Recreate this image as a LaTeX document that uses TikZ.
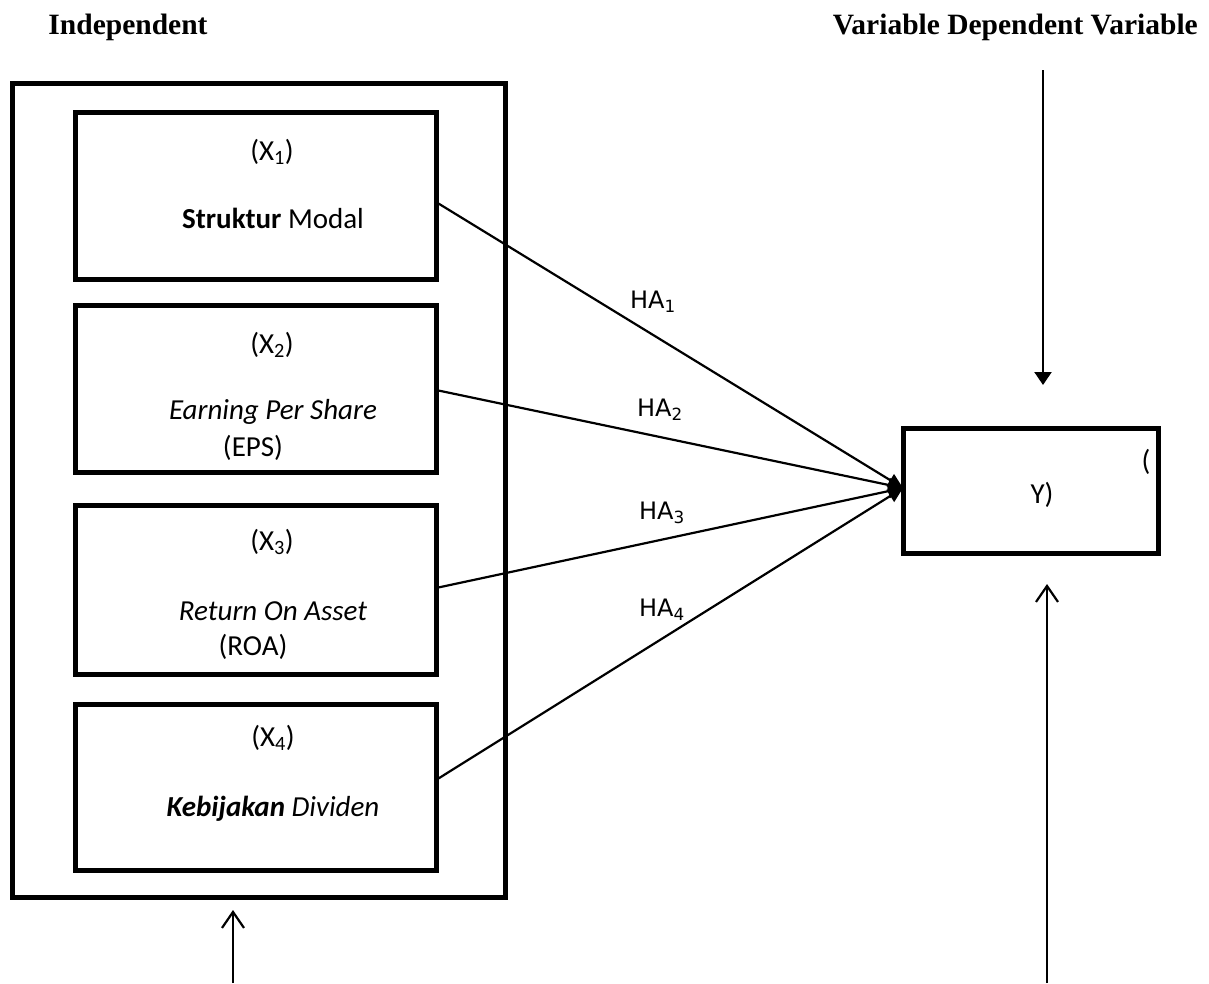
\documentclass[tikz,border=0pt]{standalone}
\usepackage{fontspec}
\setmainfont{Carlito}
\newfontfamily\hdrfont{Liberation Serif}
\newfontfamily\hafont{DejaVu Sans}
\usetikzlibrary{arrows.meta}
\tikzset{
  vbox/.style={draw, line width=5pt, minimum width=361pt, minimum height=167pt, outer sep=0pt, inner sep=0pt},
  txt/.style={inner sep=0pt, font=\fontsize{29}{34}\selectfont},
  hdr/.style={inner sep=0pt, font=\hdrfont\bfseries\fontsize{29.5}{34}\selectfont},
  halbl/.style={inner sep=0pt, font=\hafont\fontsize{24}{28}\selectfont},
  conn/.style={line width=2.2pt, -{Triangle[length=15pt,width=14pt]}},
  downarr/.style={line width=2.2pt, -{Triangle[length=13pt,width=17pt]}},
  openarr/.style={line width=2.2pt, -{Straight Barb[length=16pt,width=22pt,line width=2.2pt]}}
}
\begin{document}
\begin{tikzpicture}[x=1pt,y=-1pt]
\useasboundingbox (0,0) rectangle (1209,983);
% headers
\node[hdr] (h1) at (128,27) {Independent};
\node[hdr, anchor=east] (h2) at (1198,27) {Variable Dependent Variable};
% outer frame
\node[draw, line width=5pt, minimum width=493pt, minimum height=814pt, inner sep=0pt, outer sep=0pt] (outer) at (258.5,490) {};
% variable boxes
\node[vbox] (b1) at (255.5,195.5) {};
\node[vbox] (b2) at (255.5,388.5) {};
\node[vbox, minimum height=169pt] (b3) at (255.5,589.5) {};
\node[vbox, minimum height=166pt] (b4) at (255.5,787) {};
% box texts
\node[txt] (t1a) at (272,152) {(X\textsubscript{1})};
\node[txt] (t1b) at (273,218) {\textbf{Struktur} Modal};
\node[txt] (t2a) at (272,345) {(X\textsubscript{2})};
\node[txt] (t2b) at (273,412) {\itshape Earning Per Share};
\node[txt] (t2c) at (253,448) {(EPS)};
\node[txt] (t3a) at (272,542) {(X\textsubscript{3})};
\node[txt] (t3b) at (273,611) {\itshape Return On Asset};
\node[txt] (t3c) at (253,647) {(ROA)};
\node[txt] (t4a) at (273,738) {(X\textsubscript{4})};
\node[txt] (t4b) at (273,809) {\itshape\textbf{Kebijakan} Dividen};
% dependent box
\node[draw, line width=5pt, minimum width=255pt, minimum height=125pt, inner sep=0pt, outer sep=0pt] (yb) at (1030.5,490.5) {};
\node[txt] (yp) at (1146,462) {(};
\node[txt] (yy) at (1042,495) {Y)};
% connector start points
\coordinate (s1) at (436,202);
\coordinate (s2) at (436,390);
\coordinate (s3) at (436,588);
\coordinate (s4) at (436,780);
\coordinate (yt) at (903,488);
\draw[conn] (s1) -- (yt);
\draw[conn] (s2) -- (yt);
\draw[conn] (s3) -- (yt);
\draw[conn] (s4) -- (yt);
% labels
\node[halbl] (ha1) at (653,302) {HA\textsubscript{1}};
\node[halbl] (ha2) at (660,410) {HA\textsubscript{2}};
\node[halbl] (ha3) at (662,513) {HA\textsubscript{3}};
\node[halbl] (ha4) at (662,610) {HA\textsubscript{4}};
% vertical arrows
\coordinate (ta) at (1043,70);
\coordinate (tb) at (1043,385);
\draw[downarr] (ta) -- (tb);
\coordinate (ra) at (1047,983);
\coordinate (rb) at (1047,584);
\draw[openarr] (ra) -- (rb);
\coordinate (la) at (233,983);
\coordinate (lb) at (233,910);
\draw[openarr] (la) -- (lb);
\end{tikzpicture}
\end{document}
